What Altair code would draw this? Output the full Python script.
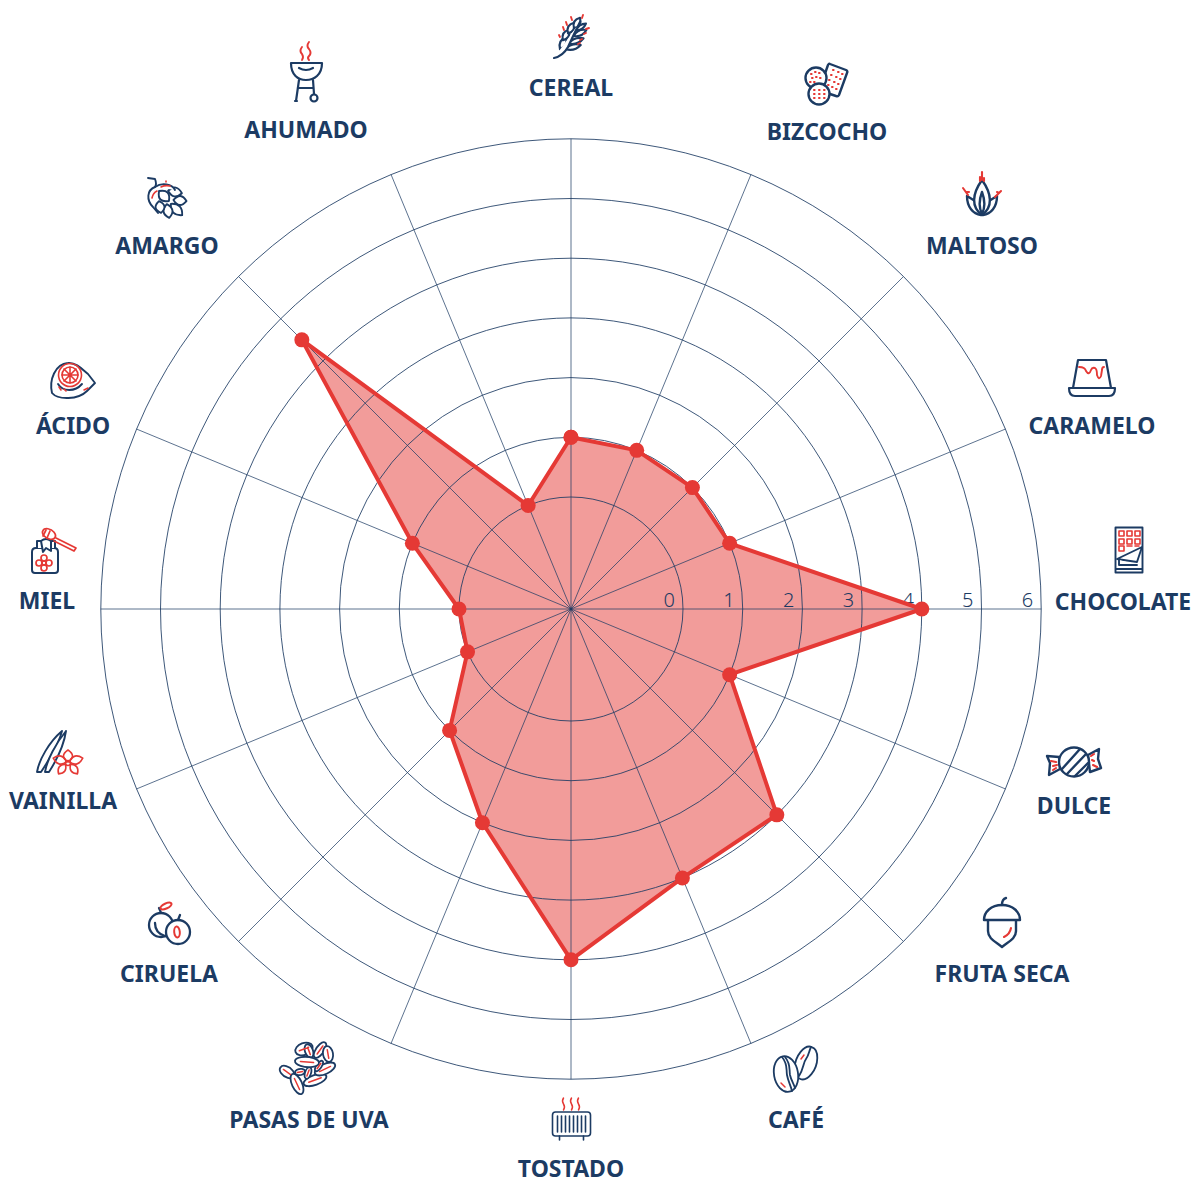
import math
import altair as alt
import pandas as pd

categories = ["CEREAL", "BIZCOCHO", "MALTOSO", "CARAMELO", "CHOCOLATE", "DULCE", "FRUTA SECA", "CAFÉ",
              "TOSTADO", "PASAS DE UVA", "CIRUELA", "VAINILLA", "MIEL", "ÁCIDO", "AMARGO", "AHUMADO"]
values = [1, 1, 1, 1, 4, 1, 3, 3, 4, 2, 1, 0, 0, 1, 4.5, 0]
rings = [0, 1, 2, 3, 4, 5, 6]

NAVY = "#1c3b63"
RED = "#e53935"
UNIT = 59.7
CX, CY = 563, 601
W, H = 1184, 1184
ORIGIN = 1.876
FONT = "Noto Sans"

# label centres and icon centres, page pixels
label_xy = [(571, 87), (827, 131), (982, 245), (1092, 425), (1123, 601), (1074, 805), (1002, 973), (796, 1119),
            (571, 1168), (309, 1119), (169, 973), (63, 800), (47, 600), (73, 425), (167, 245), (306, 129)]
icon_xy = [(571, 37), (827, 83), (982, 194), (1092, 378), (1129, 550), (1074, 762), (1002, 922), (796, 1069),
           (571.5, 1119), (307, 1068), (169, 924), (57, 752), (54, 551), (73, 380), (167, 198), (306, 72)]


def e(cx, cy, rx, ry, rot=0):
    a = math.radians(rot)
    dx, dy = rx * math.cos(a), rx * math.sin(a)
    x0, y0, x1, y1 = cx - dx, cy - dy, cx + dx, cy + dy
    return f"M{x0:.2f} {y0:.2f}A{rx} {ry} {rot} 1 0 {x1:.2f} {y1:.2f}A{rx} {ry} {rot} 1 0 {x0:.2f} {y0:.2f}Z"


def dash(cx, cy, ln, rot):
    a = math.radians(rot)
    dx, dy = ln * math.cos(a), ln * math.sin(a)
    return f"M{cx - dx:.2f} {cy - dy:.2f}L{cx + dx:.2f} {cy + dy:.2f}"


def petal(cx, cy, ln, wd, rot):
    a = math.radians(rot)
    ux, uy = math.cos(a), math.sin(a)
    vx, vy = -uy, ux
    x0, y0, x1, y1 = cx - ln * ux, cy - ln * uy, cx + ln * ux, cy + ln * uy
    return (f"M{x0:.2f} {y0:.2f}Q{cx + wd * vx:.2f} {cy + wd * vy:.2f} {x1:.2f} {y1:.2f}"
            f"Q{cx - wd * vx:.2f} {cy - wd * vy:.2f} {x0:.2f} {y0:.2f}Z")


def dots(pts):
    return "".join(f"M{x} {y}h0.6" for x, y in pts)


raisins = [(-3, -19, 9, 6, -20), (2, -17, 7, 4, 70), (13, -18, 9, 4, -55), (21, -14, 8, 5, 80),
           (-20, 4, 8, 5, 35), (-10, 16, 11, 5, 65), (8, 12, 12, 5, -20), (18, 1, 11, 5, -25),
           (-7, 4, 5, 3, -10), (1, 5, 6, 3, -70), (12, -2, 6, 2.5, -55), (0, -6, 12, 5, 5)]
raisin_red = "".join(dash(x, y, rx * 0.55, r) for x, y, rx, ry, r in raisins)

# (navy paths, red paths, stroke width)
icons = {
    "CEREAL": ([petal(-8, 6, 7, 6, -65), petal(-5, -2, 6, 6, -60), petal(0, -9, 6, 6, -60), petal(6, -14, 6, 6, -60),
                petal(2, 10, 8, 5, -15), petal(5, 4, 8, 5, -20), petal(9, -4, 7, 5, -25), petal(10, -10, 6, 4, -35),
                "M-17 21Q-8 19 -3 10Q3 -3 9 -15"],
               ["M-12 -2L-11 0M-8 -10L-7 -7M-5 -15L-4 -12M0 -20L1 -17M12 -22L11 -19M18 -9L15 -8M15 -4L13 -3M11 2L9 3M9 6L7 7"], 2.2),
    "BIZCOCHO": (["M3 -19L19 -13Q21 -12 20 -10L12 12Q11 14 9 13L-6 8Q-8 7 -7 5L1 -18Q2 -20 3 -19Z",
                  e(-11, -5, 10.5, 10.5),
                  e(-8, 11, 10.5, 10.5)],
                 [dots([(x, y) for x, y in [(-16, -9), (-12, -11), (-8, -10), (-15, -5), (-11, -6), (-7, -5), (-17, -1), (-13, -1),
                                            (6, -13), (11, -11), (15, -9), (4, -8), (9, -6), (13, -4), (2, -3), (7, -1), (11, 1),
                                            (1, 2), (5, 4), (9, 6), (-13, 7), (-8, 7), (-3, 7), (-13, 11), (-8, 11), (-3, 11), (-13, 15), (-8, 15), (-3, 15)]])], 2.4),
    "MALTOSO": (["M-1 21C-9 20 -15 13 -15 2L-7 7", "M1 21C9 20 15 13 15 2L7 7",
                 "M0 21C-11 13 -10 0 0 -14C10 0 11 13 0 21Z", "M0 -2C-3 6 -3 14 0 20C3 14 3 6 0 -2"],
                ["M0 -14V-22M-2 -13V-17M2 -13V-16M-19 -6L-14 1M-16 -2L-13 -2M19 -3L13 3M17 -1L15 -2"], 2.4),
    "CARAMELO": (["M-14 -18H14L19 10H-19Z", "M-23 10H23Q23 18 17 18H-17Q-23 18 -23 10Z"],
                 ["M-13 -11Q-7 -11 -6 -7Q-3 -2 -1 -8Q0 -11 3 -10Q5 -9 5 -3Q7 3 9 -2L10 -8Q10 -11 12 -11"], 2.2),
    "CHOCOLATE": (["M-13.5 -22.5H13.5V22.5H-13.5Z", "M-13 19H13", "M-12 9L13 -3L8 12Z", "M-10 10V15H8"],
                  ["M-10 -19H-5V-14H-10ZM-2 -19H3V-14H-2ZM6 -19H11V-14H6Z"
                   "M-10 -11H-5V-6H-10ZM-2 -11H3V-6H-2ZM6 -11H11V-6H6Z"
                   "M-10 -4H-5V1H-10ZM-2 -4H3M6 -4H10"], 1.9),
    "DULCE": (["M-15 -5L-27 -6L-24 1L-25 13L-14 7Z", "M14 -7L25 -13L24 -3L27 6L16 10Z", e(0, 0, 15, 14.5),
               "M-12 7L6 -13M-7 12L12 -8M1 14L14 1"],
              ["M-23 -1L-18 0M-21 4L-17 3M-21 8L-18 6M17 -6L20 -8M19 3L23 5M18 -2L20 -1"], 2.4),
    "FRUTA SECA": (["M-14 -2V9C-14 17 -6 20 0 25C6 20 14 17 14 9V-2", "M0 -17C-11 -17 -18 -10 -18 -2H18C18 -10 11 -17 0 -17Z",
                    "M0 -17Q0 -23 4 -24"],
                   ["M9 6Q8 12 2 15"], 2.4),
    "CAFÉ": ([e(10, -6, 17, 10, -70), "M3 7C8 -1 7 -6 10 -10C13 -14 13 -18 15 -22",
              e(-10, 5, 18, 12, 80), "M-14 -12C-8 -5 -10 0 -9 6C-8 12 -5 17 -4 22", "M-11 -12C-5 -5 -7 0 -6 6C-5 11 -2 15 -1 19"],
             ["M5 -10L8 -14M-15 14L-11 18"], 1.8),
    "TOSTADO": (["M-16 -7H16Q19 -7 19 -4V14Q19 17 16 17H-16Q-19 17 -19 14V-4Q-19 -7 -16 -7Z",
                 "M-14 -3V13M-10 -3V13M-6 -3V13M-2 -3V13M2 -3V13M6 -3V13M10 -3V13M14 -3V13",
                 "M-12 17V21M12 17V21"],
                ["M-8 -21Q-10 -18 -8 -15Q-6 -12 -8 -9M0 -21Q-2 -18 0 -15Q2 -12 0 -9M7 -21Q5 -18 7 -15Q9 -12 7 -9"], 1.6),
    "PASAS DE UVA": ([e(*r) for r in raisins], [raisin_red], 1.8),
    "CIRUELA": ([e(-8, 1, 12, 12), "M-14 -1Q-14 9 -4 12", "M-8 -11Q-9 -14 -10 -16", e(9, 8, 12, 12), "M9 -4L11 -9"],
                [e(-3, -18, 6, 2.5, -25), e(8, 8, 5.5, 2.8, 85)], 2.3),
    "ÁCIDO": (["M-21 13C-24 0 -18 -16 -5 -17C3 -18 10 -10 15 -6L22 3L14 11C5 20 -15 20 -21 13Z", "M-15 4C-10 12 2 12 9 4"],
              [e(-3, -5, 11.5, 11.5), e(-3, -5, 8, 8), "M-3 -13V3M-11 -5H5M-9 -11L3 1M3 -11L-9 1",
               "M-14 7L-12 10M-9 9L-7 11M11 10L15 8"], 1.9),
    "MIEL": (["M-18 -3H0Q4 -3 4 1V19Q4 22 1 22H-19Q-22 22 -22 19V1Q-22 -3 -18 -3Z",
              "M-17 -3V-10H1V-3", "M-13 -10Q-8 -14 -3 -10V0L-8 -3L-11 1Z"],
             [e(-5, -17, 7, 4.5, 30), "M2 -13L22 -3L20 0L0 -10", "M-8 -21L-11 -15M-4 -20L-7 -13",
              e(-10, 7, 3, 3), e(-10, 17, 3, 3), e(-15, 12, 3, 3), e(-5, 12, 3, 3), e(-10, 12, 2, 2)], 2.0),
    "VAINILLA": (["M5 -21C-8 -10 -18 8 -20 20L-16 20C-8 8 2 -8 5 -21Z", "M9 -21C-1 -9 -10 8 -12 20L-8 20C-1 9 7 -7 9 -21Z"],
                 [petal(11, 4, 6, 9, 90), petal(3, 8, 7, 8, 15), petal(19, 8, 7, 8, -15),
                  petal(5, 17, 6, 7, -55), petal(17, 17, 6, 7, 55), e(11, 11, 2.5, 2.5)], 1.9),
    "AMARGO": (["M-19 -20L-12 -19Q-10 -14 -12 -11C-20 -8 -21 2 -14 9L-9 15",
                petal(13, 2.5, 6.5, 9, 5), petal(8, -6, 7, 9, 10), petal(9.5, 11.5, 8, 9, 45), petal(1, 13, 7, 9, 80),
                petal(-7, 9, 6, 9, 80), petal(-3, -2, 7, 10, 45), "M-12 -11C-5 -16 5 -14 8 -8"],
               ["M-15 0Q-14 -5 -10 -7M-6 -11Q-2 -13 3 -12M-1 -17V-16"], 1.9),
    "AHUMADO": (["M-15 -9H16C16 3 8 8 0 8C-8 8 -15 3 -15 -9Z", "M-7 -4Q0 0 7 -4", "M-7 8L-10 29M-11 29H-9M7 8L8 22",
                 "M-8 16H7", e(8, 26, 3.5, 3.5)],
                ["M-4 -25Q-7 -21 -4 -18Q-2 -15 -4 -12M3 -30Q0 -26 3 -23Q6 -19 3 -16Q1 -14 3 -12"], 2.2),
}

px = lambda v: v / UNIT
angles = [math.radians(22.5 * i) for i in range(len(categories))]

poly = pd.DataFrame({
    "cat": categories + categories[:1],
    "i": range(len(categories) + 1),
    "v": values + values[:1],
    "a": angles + angles[:1],
})
poly["x"] = (poly.v + ORIGIN) * poly.a.map(math.sin)
poly["y"] = (poly.v + ORIGIN) * poly.a.map(math.cos)

spokes = pd.DataFrame({"a": angles})
spokes["x"] = 0.0
spokes["y"] = 0.0
spokes["x2"] = (rings[-1] + ORIGIN) * spokes.a.map(math.sin)
spokes["y2"] = (rings[-1] + ORIGIN) * spokes.a.map(math.cos)

ring_df = pd.DataFrame({"v": rings, "x": 0.0, "y": 0.0})
tick_df = pd.DataFrame({"v": rings, "t": [str(r) for r in rings], "x": [r + ORIGIN for r in rings], "y": 0.0})

lab_df = pd.DataFrame({
    "t": categories,
    "x": [px(x - 8 - CX) for x, _ in label_xy],
    "y": [px(CY - (y - 8)) for _, y in label_xy],
})

rows = []
for cat, (ix, iy) in zip(categories, icon_xy):
    navy, red, sw = icons[cat]
    for p in navy:
        rows.append({"x": px(ix - 8 - CX), "y": px(CY - (iy - 8)), "p": p, "c": NAVY, "f": "#ffffff", "w": sw})
    for p in red:
        rows.append({"x": px(ix - 8 - CX), "y": px(CY - (iy - 8)), "p": p, "c": RED, "f": "transparent", "w": max(sw - 0.3, 1.5)})
icon_df = pd.DataFrame(rows)
icon_df["n"] = range(len(icon_df))

xs = alt.Scale(domain=[-CX / UNIT, (W - CX) / UNIT], range=[0, W], nice=False, zero=False)
ys = alt.Scale(domain=[-(H - CY) / UNIT, CY / UNIT], range=[H, 0], nice=False, zero=False)
X = lambda f="x": alt.X(f"{f}:Q", scale=xs, axis=None)
Y = lambda f="y": alt.Y(f"{f}:Q", scale=ys, axis=None)

fill_layer = alt.Chart(poly).mark_line(fill=RED, fillOpacity=0.5, strokeOpacity=0).encode(
    x=X(), y=Y(), order=alt.Order("i:Q"))
ring_layer = alt.Chart(ring_df).mark_arc(theta=0, theta2=2 * math.pi, fill="transparent", stroke=NAVY, strokeWidth=1, strokeOpacity=0.85).encode(
    x=X(), y=Y(),
    radius=alt.Radius("v:Q", stack=False, scale=alt.Scale(type="linear", domain=[-ORIGIN, rings[-1]], range=[0, (rings[-1] + ORIGIN) * UNIT], zero=False, nice=False)),
    radius2=alt.value(0),
)
spoke_layer = alt.Chart(spokes).mark_rule(stroke=NAVY, strokeWidth=0.8, strokeOpacity=0.9).encode(
    x=X(), y=Y(), x2="x2:Q", y2="y2:Q")
tick_layer = alt.Chart(tick_df).mark_text(font=FONT, fontSize=20, fontWeight=300, color=NAVY, align="right", baseline="alphabetic", dx=-8, dy=-2).encode(
    x=X(), y=Y(), text="t:N")
line_layer = alt.Chart(poly).mark_line(stroke=RED, strokeWidth=4, strokeJoin="round").encode(
    x=X(), y=Y(), order=alt.Order("i:Q"))
pt_layer = alt.Chart(poly).mark_point(filled=True, size=225, color=RED, opacity=1).encode(x=X(), y=Y())
lab_layer = alt.Chart(lab_df).mark_text(font=FONT, fontSize=23, fontWeight=700, color=NAVY, align="center", baseline="middle", dy=1.5).encode(
    x=X(), y=Y(), text="t:N")
icon_layer = alt.Chart(icon_df).mark_point(filled=True, size=4, opacity=1, strokeCap="round", strokeJoin="round").encode(
    x=X(), y=Y(),
    shape=alt.Shape("p:N", scale=None),
    stroke=alt.Stroke("c:N", scale=None),
    fill=alt.Fill("f:N", scale=None),
    strokeWidth=alt.StrokeWidth("w:Q", scale=None),
    order=alt.Order("n:Q"),
)

chart = alt.layer(fill_layer, ring_layer, spoke_layer, tick_layer, line_layer, pt_layer, lab_layer, icon_layer).properties(
    width=W, height=H, padding=0, autosize=alt.AutoSizeParams(type="none"),
    background="#ffffff",
).configure_view(stroke=None)

chart.save("out.html", embed_options={"renderer": "svg", "actions": False})
